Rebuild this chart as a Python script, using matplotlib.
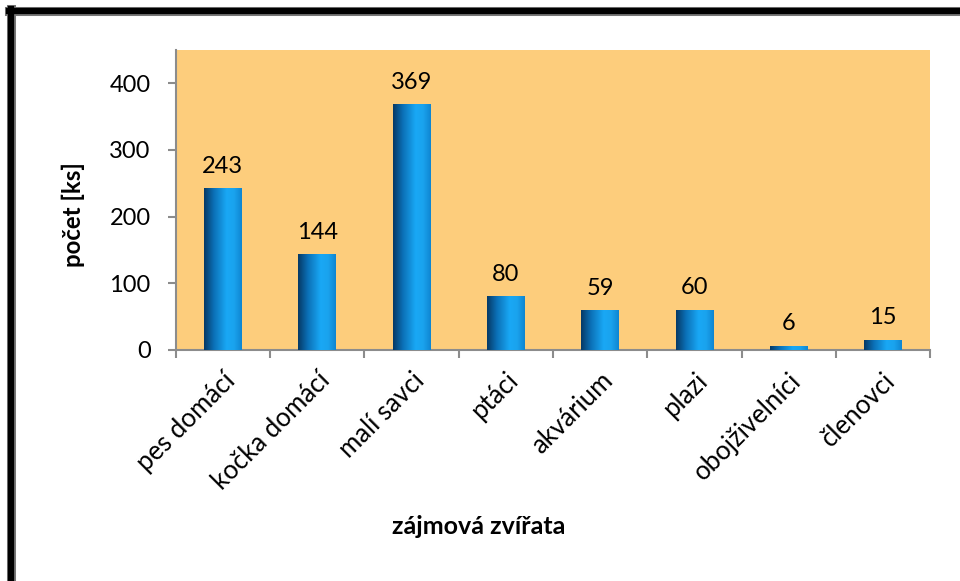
from matplotlib import pyplot as plt
from matplotlib.colors import LinearSegmentedColormap
from matplotlib.lines import Line2D
from matplotlib.transforms import ScaledTranslation
import numpy as np

categories = ['pes domácí', 'kočka domácí', 'malí savci', 'ptáci',
              'akvárium', 'plazi', 'obojživelníci', 'členovci']
counts = [243, 144, 369, 80, 59, 60, 6, 15]
y_ticks = [0, 100, 200, 300, 400]

plt.rcParams['font.family'] = ['Lato', 'DejaVu Sans']

fig = plt.figure(figsize=(9.6, 5.81), dpi=100)
ax = fig.add_axes([0.183, 0.398, 0.786, 0.516])
ax.set_facecolor('#FDCD7C')

x = np.arange(len(categories))
bars = ax.bar(x, counts, width=0.4, color='#1a9be6', edgecolor='none', zorder=2)

# cylinder-like horizontal gradient on each bar
cmap = LinearSegmentedColormap.from_list(
    'cyl', [(0, '#063a66'), (0.25, '#0b6fb5'), (0.6, '#19a8f5'), (0.8, '#1aa3ee'), (1, '#0f86d2')])
grad = np.linspace(0, 1, 64).reshape(1, -1)
for b in bars:
    x0, y0 = b.get_x(), b.get_y()
    im = ax.imshow(grad, cmap=cmap, aspect='auto', zorder=3,
                   extent=(x0, x0 + b.get_width(), y0, y0 + b.get_height()))
    im.set_clip_path(b)

for xi, v in zip(x, counts):
    ax.text(xi, v + 17, str(v), ha='center', va='bottom', fontsize=17, zorder=4)

ax.set_xlim(-0.5, len(categories) - 0.5)
ax.set_ylim(0, 450)
ax.set_yticks(y_ticks)
ax.set_xticks(x)
ax.set_xticklabels(categories, rotation=45, ha='right', rotation_mode='anchor', fontsize=18.5)
shift = ScaledTranslation(-8 / 100, 0, fig.dpi_scale_trans)
for lbl in ax.get_xticklabels():
    lbl.set_transform(lbl.get_transform() + shift)
ax.set_xticks(np.arange(-0.5, len(categories)), minor=True)
ax.tick_params(axis='x', which='major', length=0, pad=13)
ax.tick_params(axis='x', which='minor', length=6, width=1.5, color='#8c8c8c', direction='out')
ax.tick_params(axis='y', length=6, width=1.5, color='#8c8c8c', labelsize=17, pad=12)

for s in ['top', 'right']:
    ax.spines[s].set_visible(False)
for s in ['left', 'bottom']:
    ax.spines[s].set_color('#8c8c8c')
    ax.spines[s].set_linewidth(1.5)

fig.text(73 / 960, 1 - 215 / 581, 'počet [ks]', rotation=90,
         ha='center', va='center', fontsize=17.3, fontweight='bold')
fig.text(479 / 960, 1 - 527 / 581, 'zájmová zvířata',
         ha='center', va='center', fontsize=18, fontweight='bold')

# frame (top and left edges visible)
fig.add_artist(Line2D([8.5 / 960, 1], [1 - 11 / 581, 1 - 11 / 581],
                      transform=fig.transFigure, color='#777777', linewidth=6.5))
fig.add_artist(Line2D([11 / 960, 11 / 960], [0, 1 - 8.5 / 581],
                      transform=fig.transFigure, color='#777777', linewidth=6.5))
fig.add_artist(Line2D([8.5 / 960, 1], [1 - 11 / 581, 1 - 11 / 581],
                      transform=fig.transFigure, color='black', linewidth=4.5))
fig.add_artist(Line2D([11 / 960, 11 / 960], [0, 1 - 8.5 / 581],
                      transform=fig.transFigure, color='black', linewidth=4.5))

fig.savefig('out.png', dpi=100)
